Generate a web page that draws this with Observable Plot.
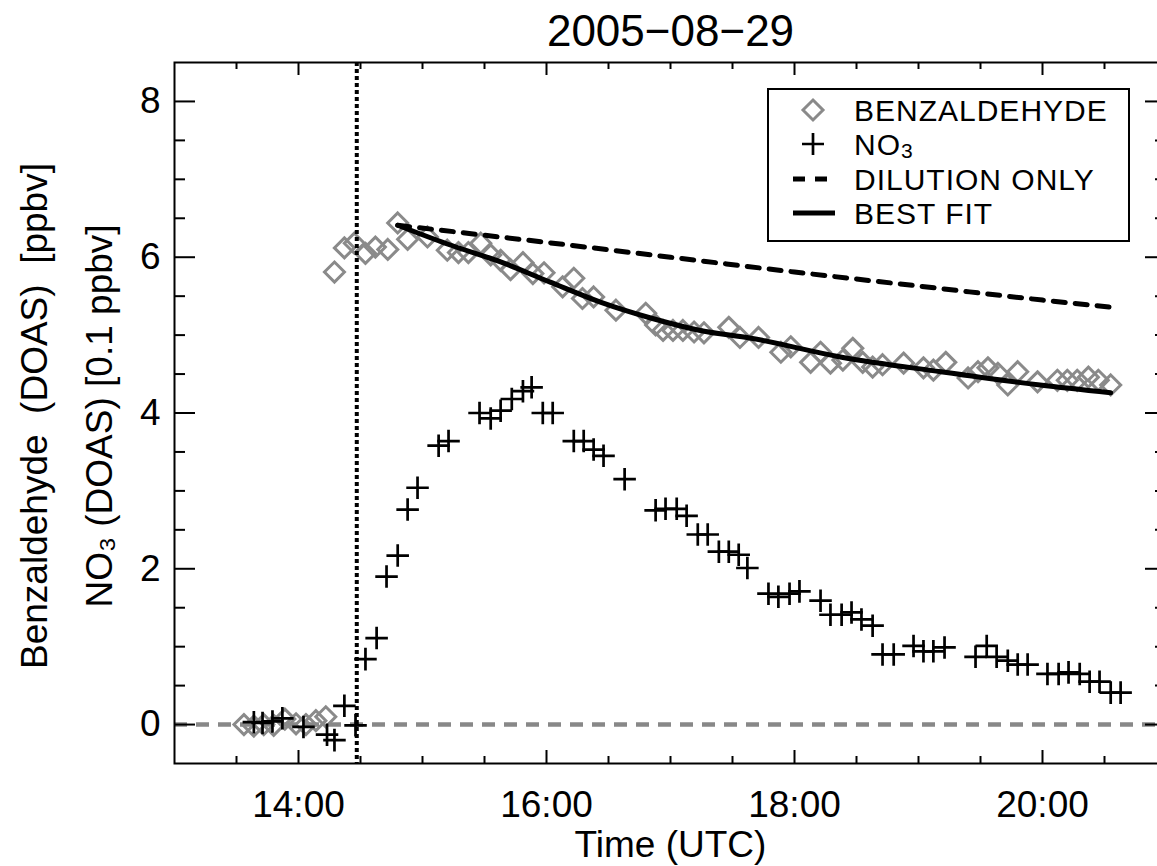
<!DOCTYPE html>
<html><head><meta charset="utf-8">
<script src="https://cdn.jsdelivr.net/npm/d3@7"></script>
<script src="https://cdn.jsdelivr.net/npm/@observablehq/plot@0.6"></script>
<style>
body{margin:0;background:#fff;}
#wrap{position:relative;width:1157px;height:866px;overflow:hidden;font-family:"Liberation Sans",Arial,sans-serif;background:#fff;}
#wrap svg.plot{position:absolute;left:0;top:0;}
#legend{position:absolute;left:767px;top:88px;}
</style></head><body><div id="wrap"></div>
<script>
// ---- data (time in decimal hours UTC) ----
const benzTime = [13.56,13.64,13.72,13.80,13.89,13.98,14.06,14.14,14.22,
  14.29,14.37,14.45,14.54,14.62,14.72,14.80,14.88,15.04,15.20,15.29,15.37,15.47,15.55,15.63,15.71,15.81,15.89,15.98,
  16.13,16.22,16.29,16.38,16.56,16.80,16.88,16.94,17.02,17.10,17.19,17.27,17.47,17.56,17.71,17.89,17.97,
  18.13,18.21,18.29,18.39,18.47,18.55,18.63,18.71,18.88,19.04,19.12,19.22,19.40,19.48,19.56,19.64,19.72,19.80,19.96,
  20.12,20.20,20.28,20.37,20.45,20.55];
const benzValue = [0.00,-0.02,0.00,-0.01,0.07,0.01,0.00,0.05,0.10,
  5.81,6.12,6.18,6.05,6.13,6.10,6.44,6.23,6.26,6.09,6.06,6.06,6.18,6.03,5.96,5.84,5.93,5.79,5.80,
  5.62,5.73,5.47,5.49,5.32,5.28,5.13,5.06,5.06,5.06,5.04,5.03,5.10,4.97,4.97,4.78,4.85,
  4.65,4.78,4.64,4.68,4.83,4.65,4.59,4.62,4.64,4.58,4.55,4.65,4.45,4.53,4.58,4.51,4.36,4.53,4.40,
  4.42,4.42,4.42,4.46,4.42,4.36];
const no3Time = [13.64,13.71,13.79,13.87,14.04,14.23,14.29,14.37,14.46,14.54,14.63,14.71,14.80,14.88,14.96,
  15.13,15.21,15.46,15.55,15.63,15.72,15.81,15.88,15.97,16.05,16.22,16.30,16.38,16.46,16.63,16.88,16.96,
  17.05,17.13,17.22,17.30,17.39,17.47,17.55,17.62,17.79,17.87,17.96,18.04,18.21,18.29,18.38,18.46,18.54,
  18.63,18.71,18.80,18.96,19.04,19.12,19.21,19.46,19.55,19.63,19.72,19.80,19.88,20.04,20.13,20.21,20.30,
  20.38,20.46,20.55,20.63];
const no3Value = [0.03,0.02,0.04,0.08,-0.03,-0.13,-0.20,0.24,-0.01,0.84,1.11,1.90,2.17,2.76,3.04,
  3.58,3.64,4.00,3.93,4.03,4.18,4.28,4.33,4.00,4.00,3.64,3.64,3.53,3.45,3.15,2.75,2.77,
  2.77,2.68,2.44,2.44,2.22,2.22,2.18,2.01,1.68,1.64,1.68,1.71,1.59,1.41,1.41,1.44,1.35,
  1.27,0.90,0.90,1.01,0.94,0.94,0.99,0.87,1.01,0.87,0.82,0.77,0.77,0.65,0.65,0.67,0.65,
  0.55,0.55,0.41,0.41];
const fitTime  = [14.80,15.20,15.63,16.03,16.44,16.84,17.24,17.65,18.37,19.18,19.98,20.55];
const fitValue = [6.41,6.17,5.94,5.68,5.42,5.22,5.06,4.96,4.72,4.53,4.36,4.26];
const dilutionTime  = [14.80,16.00,17.00,18.00,19.00,20.00,20.55];
const dilutionValue = [6.41,6.19,6.00,5.81,5.63,5.45,5.36];
const eventTime = [14.47];
const xMajorTicks = [14,16,18,20];
const xTickLabels = ["14:00","16:00","18:00","20:00"];
const xMinorTicks = [13.5,14.5,15,15.5,16.5,17,17.5,18.5,19,19.5,20.5];
const yMajorTicks = [0,2,4,6,8];
const yTickLabels = ["0","2","4","6","8"];
const yMinorTicks = [0.5,1,1.5,2.5,3,3.5,4.5,5,5.5,6.5,7,7.5];
const titleText = "2005\u221208\u221229";
const xLabel = "Time (UTC)";
const yLabel1 = "Benzaldehyde  (DOAS)  [ppbv]";
const yLabel2 = "NO\u2083 (DOAS) [0.1 ppbv]";
const legendLabels = ["BENZALDEHYDE","NO3","DILUTION ONLY","BEST FIT"];

// ---- tables ----
const benz = benzTime.map((t,i)=>({t, v:benzValue[i]}));
const no3 = no3Time.map((t,i)=>({t, v:no3Value[i]}));
const fit = fitTime.map((t,i)=>({t, v:fitValue[i]}));
const dil = dilutionTime.map((t,i)=>({t, v:dilutionValue[i]}));

const W = 1157, H = 866, mL = 174, mR = -9, mT = 62, mB = 103;
const fw = W - mL - mR, fh = H - mT - mB;
const font = "'Liberation Sans', Arial, sans-serif";

const chart = Plot.plot({
  width: W, height: H,
  marginLeft: mL, marginRight: mR, marginTop: mT, marginBottom: mB,
  x: {type: "linear", domain: [13, 21]},
  y: {type: "linear", domain: [-0.5, 8.5]},
  style: {fontFamily: font, fontSize: "37px", color: "black", background: "white", overflow: "visible"},
  marks: [
    Plot.ruleY([0], {stroke: "#888", strokeWidth: 4.5, strokeDasharray: "13,9"}),
    Plot.dot(benz, {x: "t", y: "v", symbol: "diamond2", r: 9, stroke: "#8a8a8a", strokeWidth: 3, fill: "none"}),
    Plot.line(dil, {x: "t", y: "v", stroke: "black", strokeWidth: 5, strokeDasharray: "12,10", curve: "monotone-x"}),
    Plot.line(fit, {x: "t", y: "v", stroke: "black", strokeWidth: 5, curve: "monotone-x"}),
    Plot.dot(no3, {x: "t", y: "v", symbol: "plus", r: 7.3, stroke: "black", strokeWidth: 2.7}),
    Plot.ruleX(eventTime, {stroke: "black", strokeWidth: 4, strokeDasharray: "4,3"}),
    // inward ticks: left / right
    Plot.ruleY(yMajorTicks, {insetRight: fw - 21, stroke: "black", strokeWidth: 2}),
    Plot.ruleY(yMinorTicks, {insetRight: fw - 11, stroke: "black", strokeWidth: 2}),
    Plot.ruleY(yMajorTicks, {insetLeft: fw - 21, stroke: "black", strokeWidth: 2}),
    Plot.ruleY(yMinorTicks, {insetLeft: fw - 11, stroke: "black", strokeWidth: 2}),
    // inward ticks: bottom / top
    Plot.ruleX(xMajorTicks, {insetTop: fh - 13, stroke: "black", strokeWidth: 2}),
    Plot.ruleX(xMinorTicks, {insetTop: fh - 7, stroke: "black", strokeWidth: 2}),
    Plot.ruleX(xMajorTicks, {insetBottom: fh - 13, stroke: "black", strokeWidth: 2}),
    Plot.ruleX(xMinorTicks, {insetBottom: fh - 7, stroke: "black", strokeWidth: 2}),
    Plot.frame({stroke: "black", strokeWidth: 2}),
    Plot.axisX(xMajorTicks, {tickSize: 0, tickPadding: 27, fontSize: 37, label: null,
      tickFormat: d => xTickLabels[xMajorTicks.indexOf(d)]}),
    Plot.axisY(yMajorTicks, {tickSize: 0, tickPadding: 14, fontSize: 37, label: null,
      tickFormat: d => yTickLabels[yMajorTicks.indexOf(d)]}),
    Plot.text([titleText], {text: d => d, frameAnchor: "top", dy: -31, fontSize: 44, lineAnchor: "middle"}),
    Plot.text([xLabel], {text: d => d, frameAnchor: "bottom", dy: 82, fontSize: 37, lineAnchor: "middle"}),
    Plot.text([yLabel1], {text: d => d, frameAnchor: "left", textAnchor: "middle", dx: -139, dy: 3, rotate: -90, fontSize: 37, lineAnchor: "middle"}),
    Plot.text([yLabel2], {text: d => d, frameAnchor: "left", textAnchor: "middle", dx: -74, dy: 3, rotate: -90, fontSize: 37, lineAnchor: "middle"})
  ]
});
chart.classList.add("plot");
document.getElementById("wrap").appendChild(chart);

// ---- legend box ----
const lg = d3.select("#wrap").append("svg").attr("id", "legend")
  .attr("width", 364).attr("height", 156);
lg.append("rect").attr("x", 1).attr("y", 1).attr("width", 361).attr("height", 152)
  .attr("fill", "white").attr("stroke", "black").attr("stroke-width", 2);
const rowY = [22, 56, 91, 125];
const sx = 46, tx = 87;
lg.append("path").attr("d", `M${sx},${rowY[0]-10}L${sx+10},${rowY[0]}L${sx},${rowY[0]+10}L${sx-10},${rowY[0]}Z`)
  .attr("fill", "none").attr("stroke", "#8a8a8a").attr("stroke-width", 3);
lg.append("path").attr("d", `M${sx-11},${rowY[1]}H${sx+11}M${sx},${rowY[1]-11}V${rowY[1]+11}`)
  .attr("stroke", "black").attr("stroke-width", 2.7);
lg.append("line").attr("x1", sx-20).attr("x2", sx+22).attr("y1", rowY[2]).attr("y2", rowY[2])
  .attr("stroke", "black").attr("stroke-width", 5).attr("stroke-dasharray", "12,10");
lg.append("line").attr("x1", sx-20).attr("x2", sx+22).attr("y1", rowY[3]).attr("y2", rowY[3])
  .attr("stroke", "black").attr("stroke-width", 5);
legendLabels.forEach((lab, i) => {
  const t = lg.append("text").attr("x", tx).attr("y", rowY[i] + 11)
    .attr("font-family", font).attr("font-size", 30).attr("letter-spacing", "1px").attr("fill", "black");
  if (lab === "NO3") {
    t.append("tspan").text("NO");
    t.append("tspan").attr("dy", 3).attr("font-size", 21).text("3");
  } else t.text(lab);
});
</script></body></html>
